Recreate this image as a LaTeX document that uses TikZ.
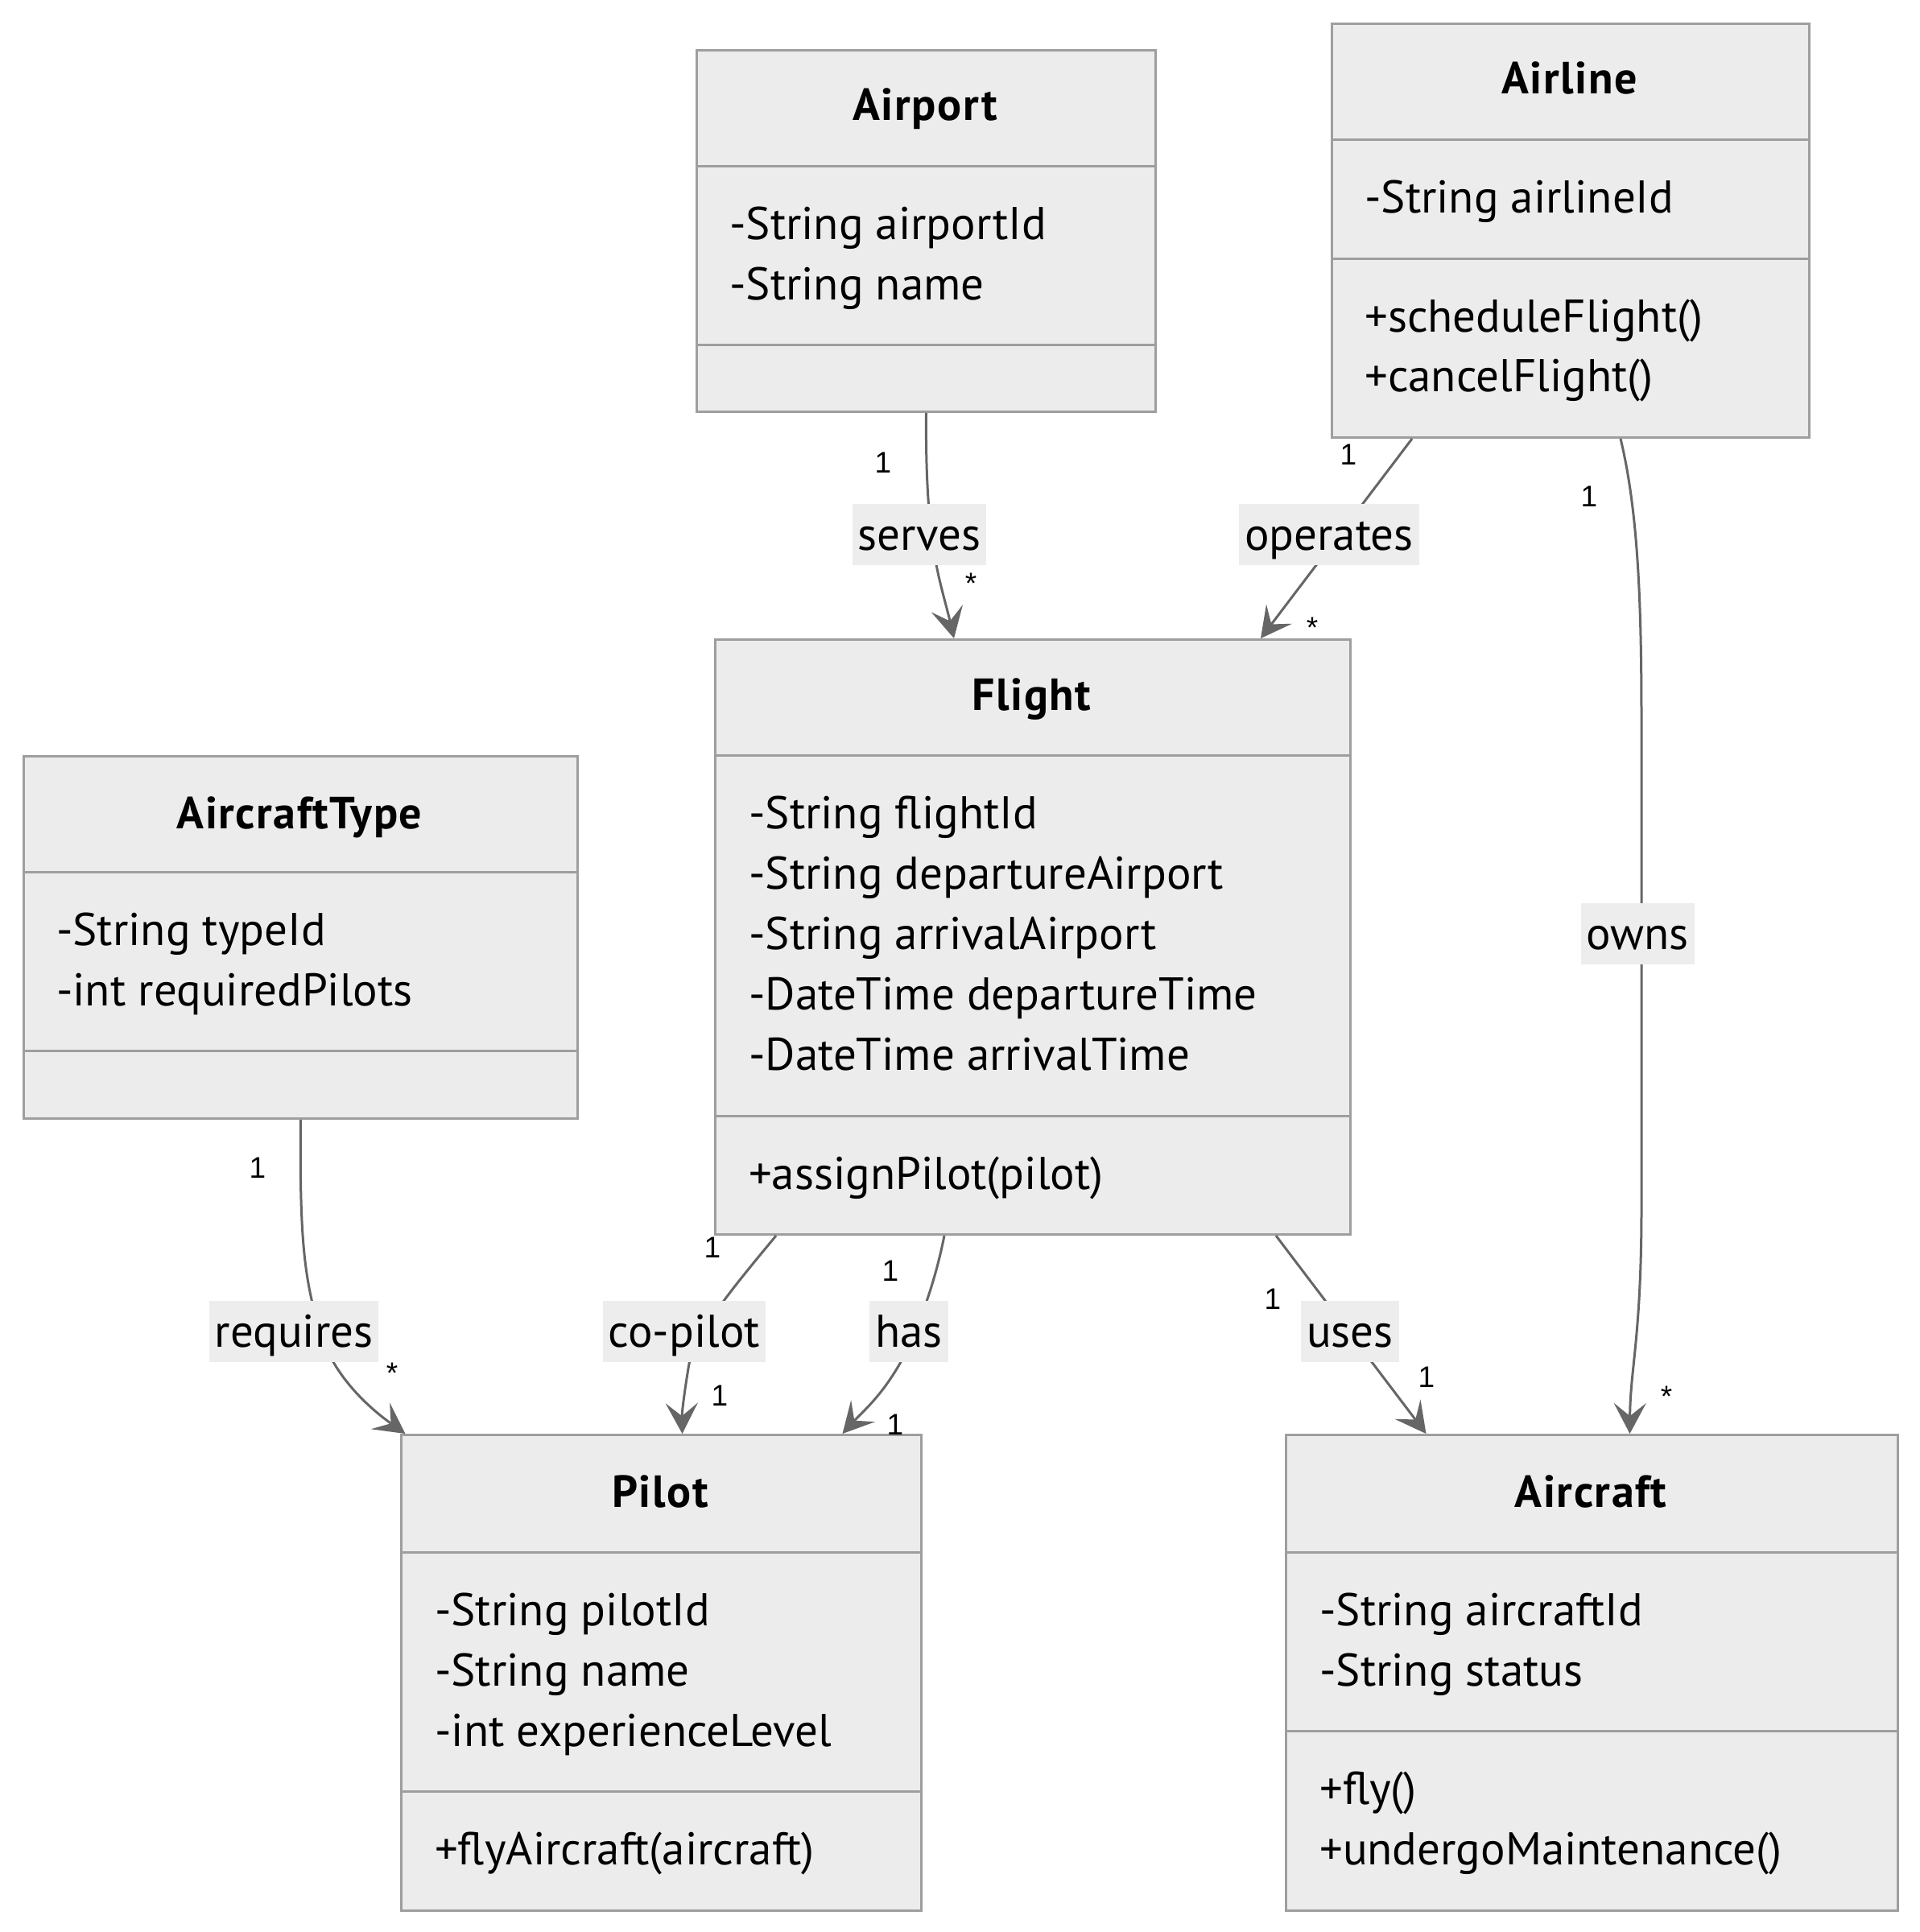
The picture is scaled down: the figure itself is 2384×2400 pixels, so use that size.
\documentclass[tikz,border=0pt]{standalone}
\usepackage{fontspec}
\setmainfont{PT Sans}
\newfontfamily\cardfont{Liberation Sans}
\newfontfamily\titlefont[LetterSpace=2.8]{PT Sans Bold}
\usetikzlibrary{arrows.meta,calc}
\definecolor{boxfill}{HTML}{ECECEC}
\definecolor{boxline}{HTML}{9E9E9E}
\definecolor{edgeline}{HTML}{666666}
\definecolor{lblfill}{HTML}{EDEDED}
\begin{document}
\begin{tikzpicture}[x=1pt,y=-1pt,
  classbox/.style={draw=boxline, fill=boxfill, line width=3pt, anchor=north west, inner sep=0pt},
  divline/.style={draw=boxline, line width=3pt},
  ctitle/.style={font=\fontsize{56}{60}\selectfont\titlefont, anchor=base, inner sep=0pt},
  member/.style={font=\fontsize{57}{60}\selectfont, anchor=base west, inner sep=0pt},
  edge/.style={draw=edgeline, line width=3pt, -{Stealth[length=38pt,width=40pt,inset=16pt]}},
  elabel/.style={fill=lblfill, font=\fontsize{57}{60}\selectfont, minimum height=76pt, inner xsep=7pt, inner ysep=0pt, text height=50pt, text depth=12pt},
  card/.style={font=\fontsize{37}{40}\selectfont\cardfont, inner sep=0pt}
]
\useasboundingbox[fill=white] (0,0) rectangle (2384,2400);

% ---------- Airport ----------
\node[classbox, minimum width=570pt, minimum height=449pt] (airport) at (864,61) {};
\draw[divline] (864,207) -- (1434,207);
\draw[divline] (864,428) -- (1434,428);
\node[ctitle] (airport-t) at (1149,150) {Airport};
\node[member] (airport-a1) at (906,297) {-String airportId};
\node[member] (airport-a2) at (906,372) {-String name};

% ---------- Airline ----------
\node[classbox, minimum width=593pt, minimum height=514pt] (airline) at (1653,28) {};
\draw[divline] (1653,174) -- (2246,174);
\draw[divline] (1653,321) -- (2246,321);
\node[ctitle] (airline-t) at (1949.5,117) {Airline};
\node[member] (airline-a1) at (1695,265) {-String airlineId};
\node[member] (airline-m1) at (1695,412) {+scheduleFlight()};
\node[member] (airline-m2) at (1695,486) {+cancelFlight()};

% ---------- Flight ----------
\node[classbox, minimum width=789pt, minimum height=739pt] (flight) at (887,793) {};
\draw[divline] (887,938) -- (1676,938);
\draw[divline] (887,1386) -- (1676,1386);
\node[ctitle] (flight-t) at (1281.5,882) {Flight};
\node[member] (flight-a1) at (930,1029) {-String flightId};
\node[member] (flight-a2) at (930,1104) {-String departureAirport};
\node[member] (flight-a3) at (930,1179) {-String arrivalAirport};
\node[member] (flight-a4) at (930,1254) {-DateTime departureTime};
\node[member] (flight-a5) at (930,1329) {-DateTime arrivalTime};
\node[member] (flight-m1) at (930,1477) {+assignPilot(pilot)};

% ---------- AircraftType ----------
\node[classbox, minimum width=688pt, minimum height=450pt] (atype) at (28,938) {};
\draw[divline] (28,1083) -- (716,1083);
\draw[divline] (28,1305) -- (716,1305);
\node[ctitle] (atype-t) at (372,1029) {AircraftType};
\node[member] (atype-a1) at (70,1174) {-String typeId};
\node[member] (atype-a2) at (70,1249) {-int requiredPilots};

% ---------- Pilot ----------
\node[classbox, minimum width=646pt, minimum height=591pt] (pilot) at (497,1781) {};
\draw[divline] (497,1928) -- (1143,1928);
\draw[divline] (497,2225) -- (1143,2225);
\node[ctitle] (pilot-t) at (820,1872) {Pilot};
\node[member] (pilot-a1) at (540,2019) {-String pilotId};
\node[member] (pilot-a2) at (540,2094) {-String name};
\node[member] (pilot-a3) at (540,2169) {-int experienceLevel};
\node[member] (pilot-m1) at (540,2316) {+flyAircraft(aircraft)};

% ---------- Aircraft ----------
\node[classbox, minimum width=760pt, minimum height=591pt] (aircraft) at (1596,1781) {};
\draw[divline] (1596,1928) -- (2356,1928);
\draw[divline] (1596,2150) -- (2356,2150);
\node[ctitle] (aircraft-t) at (1976,1872) {Aircraft};
\node[member] (aircraft-a1) at (1639,2019) {-String aircraftId};
\node[member] (aircraft-a2) at (1639,2094) {-String status};
\node[member] (aircraft-m1) at (1639,2241) {+fly()};
\node[member] (aircraft-m2) at (1639,2316) {+undergoMaintenance()};

% ---------- Edges ----------
\draw[edge] (airport.south) .. controls (1149,680) and (1168,720) .. ([xshift=-98pt]flight.north);
\draw[edge] ([xshift=-197pt]airline.south) -- ([xshift=283pt]flight.north);
\draw[edge] ([xshift=62pt]airline.south) .. controls (2036,640) and (2039,760) .. (2039,900) -- (2039,1500) .. controls (2039,1660) and (2025,1700) .. ([xshift=47pt]aircraft.north);
\draw[edge] (atype.south) .. controls (372,1540) and (378,1590) .. (398,1655) .. controls (414,1710) and (460,1750) .. ([xshift=-318pt]pilot.north);
\draw[edge] ([xshift=-319pt]flight.south) .. controls (910,1600) and (860,1660) .. (855,1700) .. controls (850,1730) and (847,1755) .. ([xshift=26pt]pilot.north);
\draw[edge] ([xshift=-110pt]flight.south) .. controls (1160,1600) and (1140,1650) .. (1120,1690) .. controls (1095,1735) and (1070,1755) .. ([xshift=225pt]pilot.north);
\draw[edge] ([xshift=302pt]flight.south) -- ([xshift=-206pt]aircraft.north);

% ---------- Edge labels ----------
\node[elabel] (l-serves) at (1142,664) {serves};
\node[elabel] (l-operates) at (1651,664) {operates};
\node[elabel] (l-owns) at (2034,1160) {owns};
\node[elabel] (l-requires) at (365,1654) {requires};
\node[elabel] (l-copilot) at (850,1654) {co-pilot};
\node[elabel] (l-has) at (1129,1654) {has};
\node[elabel] (l-uses) at (1677,1654) {uses};

% ---------- Cardinalities ----------
\node[card] (c1) at (1097,575) {1};
\node[card] (c2) at (1206,725) {*};
\node[card] (c3) at (1675,565) {1};
\node[card] (c4) at (1630,780) {*};
\node[card] (c5) at (1974,617) {1};
\node[card] (c6) at (2070,1735) {*};
\node[card] (c7) at (320,1451) {1};
\node[card] (c8) at (487,1706) {*};
\node[card] (c9) at (885,1550) {1};
\node[card] (c10) at (894,1734) {1};
\node[card] (c11) at (1106,1579) {1};
\node[card] (c12) at (1112,1770) {1};
\node[card] (c13) at (1581,1614) {1};
\node[card] (c14) at (1772,1711) {1};
\end{tikzpicture}
\end{document}
